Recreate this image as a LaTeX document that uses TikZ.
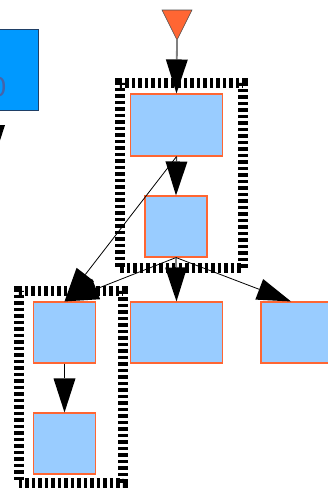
\documentclass[tikz,border=0pt]{standalone}
\usepackage{fontspec}
\setmainfont{DejaVu Sans}
\usetikzlibrary{arrows.meta}
\definecolor{boxfill}{HTML}{99CCFF}
\definecolor{boxline}{HTML}{FF6633}
\definecolor{topfill}{HTML}{0099FF}
\definecolor{topline}{HTML}{1F3F66}
\definecolor{txtblue}{RGB}{70,100,170}
\definecolor{orng}{HTML}{FF6633}
\tikzset{
  x=1pt, y=-1pt,
  bluebox/.style={draw=boxline, line width=1.1pt, fill=boxfill, inner sep=0pt},
  contbox/.style={draw=black, line width=10pt, dash pattern=on 3.5pt off 3pt, inner sep=0pt},
  bigtip/.style={-{Triangle[length=34pt,width=22pt,color=black,line width=0pt]}},
  greyconn/.style={bigtip, draw=gray, line width=1.8pt},
  darkconn/.style={bigtip, draw=black!75, line width=1.2pt},
  thinconn/.style={bigtip, draw=black, line width=0.8pt}
}
\begin{document}
\begin{tikzpicture}
\useasboundingbox (0,0) rectangle (328,490);
\clip (0,0) rectangle (328,490);
% containers
\node[contbox, minimum width=123pt, minimum height=185pt] (g1) at (181.5,175.5) {};
\node[contbox, minimum width=104pt, minimum height=191.5pt] (g2) at (70.5,386.75) {};
% top-left blue box
\node[draw=topline, line width=0.9pt, fill=topfill, minimum width=88pt, minimum height=81pt, inner sep=0pt] (tl) at (-6,69.5) {};
\node[anchor=east, inner sep=0pt, text=txtblue, font=\fontsize{26}{26}\selectfont] (tltext) at (7,87.5) {0};
\coordinate (offtip) at (-6,159);
\draw[thinconn] (tl.south) -- (offtip);
% start triangle
\coordinate (tip) at (177,40);
\draw[draw=black!70, fill=orng, line width=0.6pt] (162,10) -- (192,10) -- (tip) -- cycle;
% boxes
\node[bluebox, minimum width=92pt, minimum height=62pt] (A) at (176.5,125) {};
\node[bluebox, minimum width=62pt, minimum height=61pt] (B) at (176,226.5) {};
\node[bluebox, minimum width=62pt, minimum height=61pt] (C) at (64.5,332.5) {};
\node[bluebox, minimum width=62pt, minimum height=61pt] (D) at (64.5,443.5) {};
\node[bluebox, minimum width=92pt, minimum height=61pt] (E) at (176.5,332.5) {};
\node[bluebox, minimum width=92pt, minimum height=61pt] (F) at (307,332.5) {};
% connectors
\draw[greyconn] (tip) -- (A.north);
\draw[darkconn] (A.south) -- (B.north);
\draw[thinconn] (A.south) -- (C.north);
\draw[thinconn] (B.south) -- (C.north);
\draw[greyconn] (B.south) -- (E.north);
\draw[thinconn] (B.south) -- ([xshift=-16pt]F.north);
\draw[thinconn] (C.south) -- (D.north);
\end{tikzpicture}
\end{document}
